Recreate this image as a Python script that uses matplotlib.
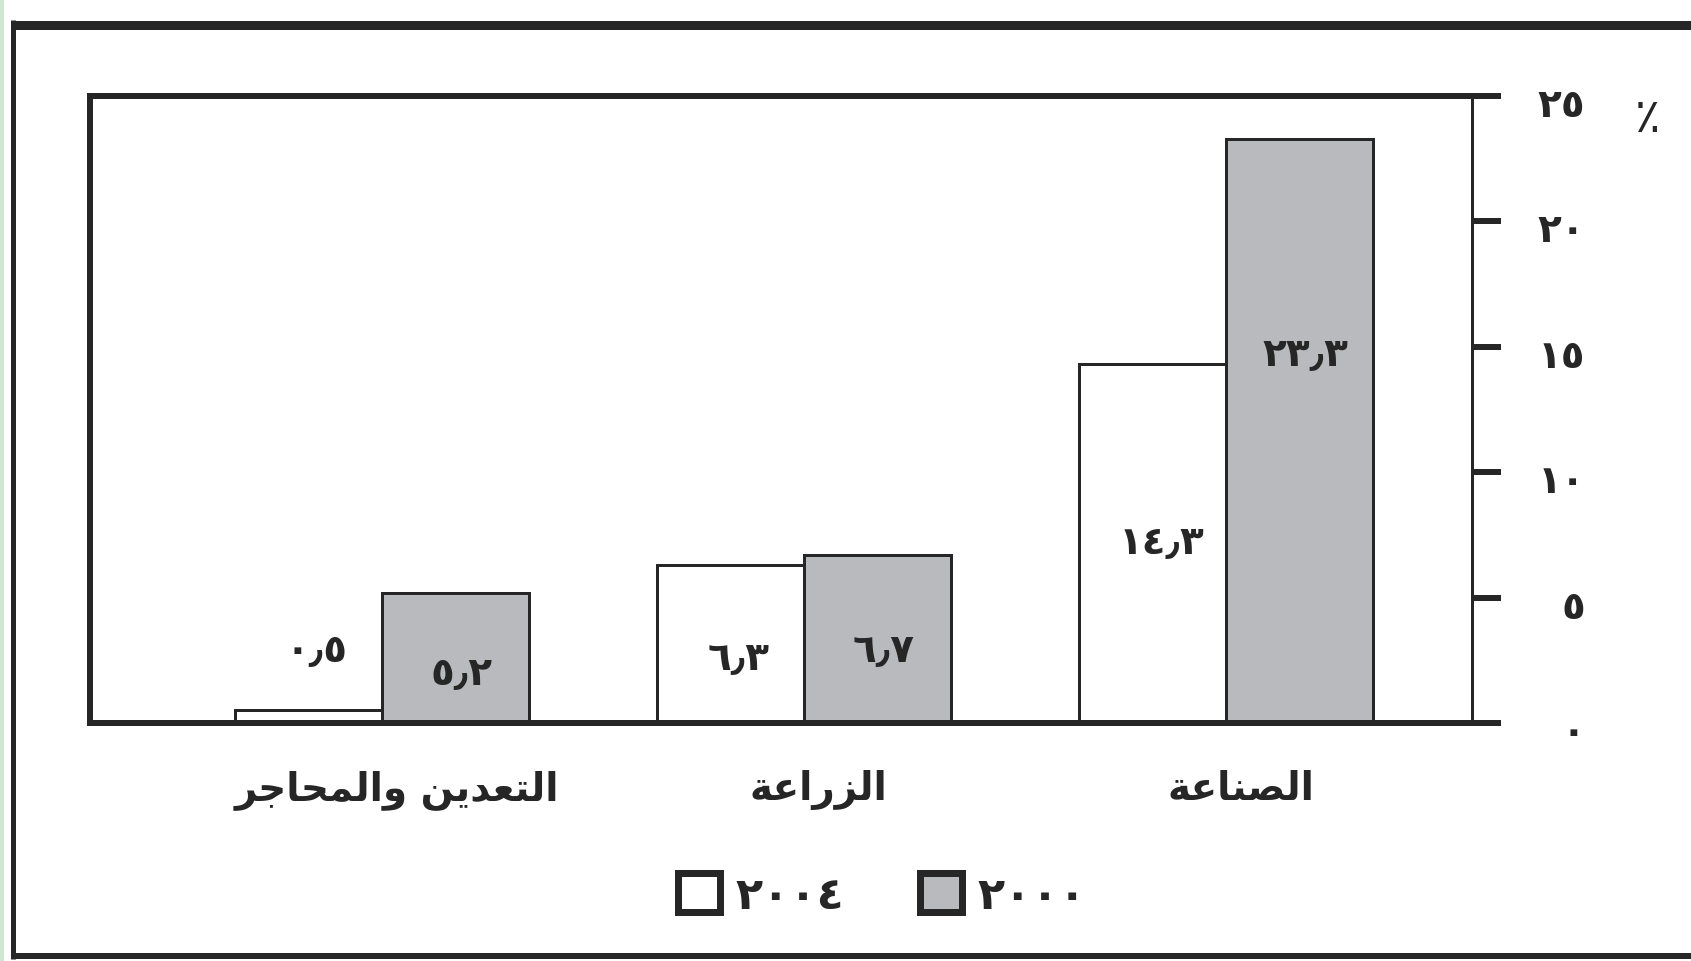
import matplotlib
matplotlib.use("Agg")
import matplotlib.pyplot as plt
import matplotlib.transforms as mtransforms
from matplotlib.patches import Rectangle, Patch
from matplotlib.lines import Line2D
import numpy as np

# ---------------- data ----------------
categories = ["التعدين والمحاجر", "الزراعة", "الصناعة"]
years = [2004, 2000]
values_2004 = [0.5, 6.3, 14.3]
values_2000 = [5.2, 6.7, 23.3]
y_ticks = [0, 5, 10, 15, 20, 25]
unit_label = "٪"

# label vertical placement (layout, data units)
label_y_2004 = [2.9, 2.6, 7.2]
label_y_2000 = [2.0, 2.9, 14.7]

# ---------------- helpers ----------------
AR_DIGITS = str.maketrans("0123456789.", "٠١٢٣٤٥٦٧٨٩٫")

def ar_num(v, fmt="{:.1f}"):
    return fmt.format(v).translate(AR_DIGITS)

# Arabic presentation forms: (isolated, final, initial, medial)
FORMS = {
    "\u0627": ("\uFE8D", "\uFE8E", None, None),
    "\u0644": ("\uFEDD", "\uFEDE", "\uFEDF", "\uFEE0"),
    "\u062A": ("\uFE95", "\uFE96", "\uFE97", "\uFE98"),
    "\u0639": ("\uFEC9", "\uFECA", "\uFECB", "\uFECC"),
    "\u062F": ("\uFEA9", "\uFEAA", None, None),
    "\u064A": ("\uFEF1", "\uFEF2", "\uFEF3", "\uFEF4"),
    "\u0646": ("\uFEE5", "\uFEE6", "\uFEE7", "\uFEE8"),
    "\u0648": ("\uFEED", "\uFEEE", None, None),
    "\u0645": ("\uFEE1", "\uFEE2", "\uFEE3", "\uFEE4"),
    "\u062D": ("\uFEA1", "\uFEA2", "\uFEA3", "\uFEA4"),
    "\u062C": ("\uFE9D", "\uFE9E", "\uFE9F", "\uFEA0"),
    "\u0631": ("\uFEAD", "\uFEAE", None, None),
    "\u0632": ("\uFEAF", "\uFEB0", None, None),
    "\u0635": ("\uFEB9", "\uFEBA", "\uFEBB", "\uFEBC"),
    "\u0629": ("\uFE93", "\uFE94", None, None),
}

def shape_ar(s):
    chars = list(s)
    n = len(chars)
    def dual(c):
        return c in FORMS and FORMS[c][2] is not None
    out = []
    for i, c in enumerate(chars):
        if c not in FORMS:
            out.append(c)
            continue
        prev = chars[i - 1] if i > 0 else None
        nxt = chars[i + 1] if i < n - 1 else None
        jp = prev is not None and dual(prev)
        jn = nxt is not None and nxt in FORMS and dual(c)
        iso, fin, ini, med = FORMS[c]
        if jp and jn:
            out.append(med)
        elif jp:
            out.append(fin)
        elif jn:
            out.append(ini)
        else:
            out.append(iso)
    return "".join(reversed(out))

# ---------------- figure ----------------
W, H = 1691, 962
DPI = 100
fig = plt.figure(figsize=(W / DPI, H / DPI), dpi=DPI)
fig.patch.set_facecolor("white")

INK = "#262626"
GREY = "#b9babe"

def fx(px):
    return px / W

def fy(py):
    return 1 - py / H

def pt(px):
    return px * 72 / DPI

# light green strip at left edge
fig.patches.append(Rectangle((0, 0), fx(3.5), 1, transform=fig.transFigure,
                             facecolor="#cfe6cf", edgecolor="none", zorder=0))
# outer frame (cut at right edge)
fig.lines.append(Line2D([fx(11), 1.0], [fy(25.5), fy(25.5)], transform=fig.transFigure,
                        color=INK, lw=pt(9), solid_capstyle="butt"))
fig.lines.append(Line2D([fx(13), fx(13)], [fy(21), fy(960)], transform=fig.transFigure,
                        color=INK, lw=pt(5), solid_capstyle="butt"))
fig.lines.append(Line2D([fx(11), 1.0], [fy(957), fy(957)], transform=fig.transFigure,
                        color=INK, lw=pt(6), solid_capstyle="butt"))

ax = fig.add_axes([fx(89.5), fy(724), fx(1472 - 89.5), (724 - 97) / H])
ax.set_facecolor("white")

x = np.arange(len(categories))
w = 0.348
ax.bar(x - w / 2, values_2004, width=w, color="white", edgecolor=INK, linewidth=pt(3), zorder=2)
ax.bar(x + w / 2, values_2000, width=w, color=GREY, edgecolor=INK, linewidth=pt(3), zorder=2)

ax.set_xlim(-0.693, 2.583)
ax.set_ylim(0, 25)

for s in ["top", "bottom", "left"]:
    ax.spines[s].set_linewidth(pt(6))
    ax.spines[s].set_color(INK)
ax.spines["right"].set_linewidth(pt(3))
ax.spines["right"].set_color(INK)
for s in ax.spines.values():
    s.set_zorder(3)
    s.set_capstyle("projecting")

AR_FONT = ["DejaVu Sans"]

ax.yaxis.tick_right()
ax.set_yticks(y_ticks)
ax.set_yticklabels([ar_num(t, "{:d}") for t in y_ticks], fontsize=28,
                   fontweight="bold", family=AR_FONT, color=INK, ha="right")
ax.tick_params(axis="y", direction="out", length=pt(29), width=pt(6), color=INK,
               pad=pt(84))
shift = mtransforms.ScaledTranslation(0, -5 / DPI, fig.dpi_scale_trans)
for lab in ax.get_yticklabels():
    lab.set_transform(lab.get_transform() + shift)

ax.set_xticks(x + 0.035)
ax.set_xticklabels([shape_ar(c) for c in categories], fontsize=28, family=AR_FONT,
                   color=INK, fontweight="bold")
ax.tick_params(axis="x", length=0, pad=pt(46))

for i in range(len(categories)):
    ax.text(x[i] - w / 2 + 0.02, label_y_2004[i], ar_num(values_2004[i]), ha="center",
            va="center", fontsize=28, fontweight="bold", family=AR_FONT, color=INK, zorder=4)
    ax.text(x[i] + w / 2 + 0.015, label_y_2000[i], ar_num(values_2000[i]), ha="center",
            va="center", fontsize=28, fontweight="bold", family=AR_FONT, color=INK, zorder=4)

fig.text(fx(1648), fy(120), unit_label, ha="center", va="center", fontsize=34,
         family=AR_FONT, color=INK)

handles = [Patch(facecolor="white", edgecolor=INK, linewidth=pt(7)),
           Patch(facecolor=GREY, edgecolor=INK, linewidth=pt(7))]
fig.legend(handles, [ar_num(yv, "{:d}") for yv in years], loc="center",
           bbox_to_anchor=(fx(882), fy(896)), ncol=2, frameon=False,
           prop={"family": AR_FONT, "size": 32, "weight": "bold"},
           handlelength=0.95, handleheight=0.95, handletextpad=0.35,
           columnspacing=1.7, labelcolor=INK)

fig.savefig("out.png", dpi=DPI, facecolor="white")
